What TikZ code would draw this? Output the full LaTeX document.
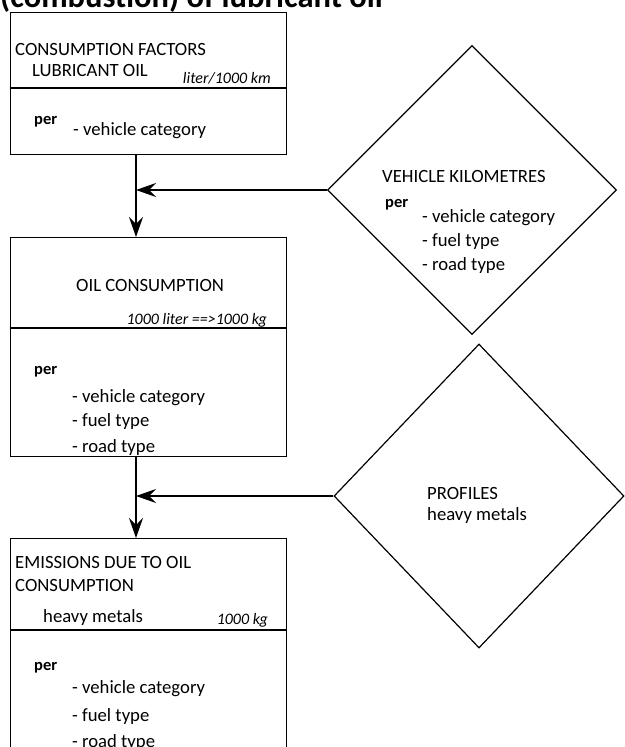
\documentclass[tikz,border=0pt]{standalone}
\usepackage{fontspec}
\setmainfont{Carlito}
\usepackage{tikz}
\usetikzlibrary{arrows.meta,positioning,shapes.geometric}
\newcommand{\boxfont}{\fontsize{18.7}{22}\selectfont}
\newcommand{\unitfont}{\fontsize{16}{19}\selectfont\itshape}
\newcommand{\perfont}{\fontsize{16.5}{19}\selectfont\bfseries}
\newcommand{\titlefont}{\fontsize{32.5}{36}\selectfont\bfseries}
\tikzset{
  box/.style={draw, line width=1.2pt, minimum width=276pt, inner sep=0pt, anchor=north west},
  choice/.style={draw, diamond, line width=1.2pt, inner sep=0pt},
  txt/.style={anchor=base west, inner sep=0pt, font=\boxfont},
  unit/.style={anchor=base east, inner sep=0pt, font=\unitfont},
  perlbl/.style={anchor=base west, inner sep=0pt, font=\perfont},
  flow/.style={line width=1.2pt, -{Stealth[length=20pt,width=14pt,inset=7pt]}}
}

\begin{document}
\begin{tikzpicture}[x=1pt, y=-1pt]
  \useasboundingbox (0,0) rectangle (624,747);

  \node[anchor=base west, inner sep=0pt, font=\titlefont] (ttl) at (0,7.5) {(combustion) of lubricant oil};

  % consumption factors
  \node[box, minimum height=142pt] (cf) at (10,12) {};
  \draw[line width=1.2pt] (10,88) -- (287,88);
  \node[txt] (cf1) at (15,55) {CONSUMPTION FACTORS};
  \node[txt] (cf2) at (32,76) {LUBRICANT OIL};
  \node[unit] (cfu) at (271,83) {liter/1000 km};
  \node[perlbl] (cfp) at (34,124) {per};
  \node[txt] (cfa) at (73,135) {- vehicle category};

  % oil consumption
  \node[box, minimum height=219pt] (oc) at (10,237) {};
  \draw[line width=1.2pt] (10,328) -- (287,328);
  \node[txt] (oc1) at (76,291) {OIL CONSUMPTION};
  \node[unit] (ocu) at (267,324) {1000 liter ==>1000 kg};
  \node[perlbl] (ocp) at (34,374) {per};
  \node[txt] (oca) at (72,402) {- vehicle category};
  \node[txt] (ocb) at (72,426) {- fuel type};
  \node[txt] (occ) at (72,452) {- road type};

  % emissions
  \node[box, minimum height=260pt] (em) at (10,538) {};
  \draw[line width=1.2pt] (10,630) -- (287,630);
  \node[txt] (em1) at (15,568) {EMISSIONS DUE TO OIL};
  \node[txt] (em2) at (15,591) {CONSUMPTION};
  \node[txt] (em3) at (43,622) {heavy metals};
  \node[unit] (emu) at (268,624) {1000 kg};
  \node[perlbl] (emp) at (34,670) {per};
  \node[txt] (ema) at (72,693) {- vehicle category};
  \node[txt] (emb) at (72,721) {- fuel type};
  \node[txt] (emc) at (72,747) {- road type};

  % vehicle kilometres
  \node[choice, minimum width=289pt, minimum height=289pt] (vk) at (472,190) {};
  \node[txt] (vk1) at (382,182) {VEHICLE KILOMETRES};
  \node[perlbl] (vkp) at (385,207) {per};
  \node[txt] (vka) at (422,222) {- vehicle category};
  \node[txt] (vkb) at (422,246) {- fuel type};
  \node[txt] (vkc) at (422,270) {- road type};

  % profiles
  \node[choice, minimum width=290pt, minimum height=304pt] (pr) at (479,496) {};
  \node[txt] (pr1) at (427,499) {PROFILES};
  \node[txt] (pr2) at (427,520) {heavy metals};

  % arrows
  \coordinate (j1) at (136,190);
  \coordinate (j2) at (136,496);
  \draw[flow] (cf.south -| j1) -- (oc.north -| j1);
  \draw[flow] (vk.west) -- (j1);
  \draw[flow] (oc.south -| j2) -- (em.north -| j2);
  \draw[flow] (pr.west) -- (j2);
\end{tikzpicture}
\end{document}
